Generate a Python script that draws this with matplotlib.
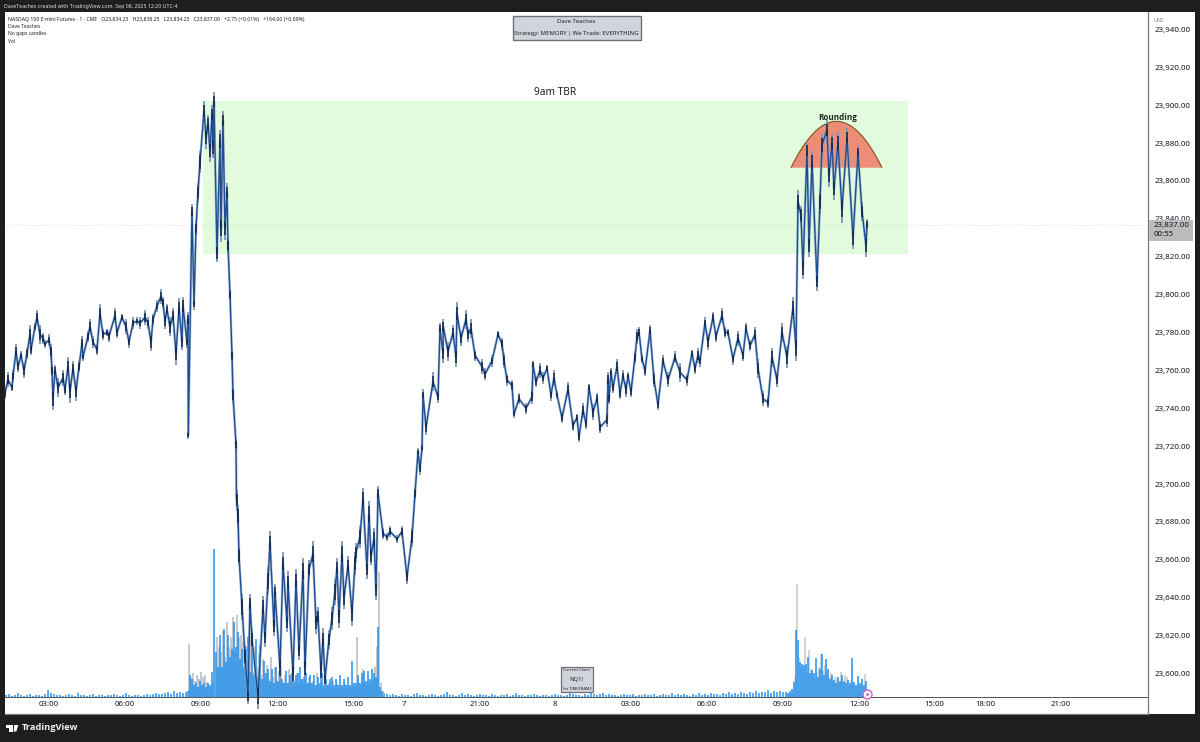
import numpy as np
import matplotlib
matplotlib.use("Agg")
import matplotlib.pyplot as plt
from matplotlib.patches import Rectangle, PathPatch, Polygon
from matplotlib.path import Path

FONT = "Noto Sans"
plt.rcParams["font.family"] = FONT

# ---- data -----------------------------------------------------------
bar_pos = [0,3,7,8,11,13,16,19,22,25,26,30,32,35,38,40,44,46,47,48,50,53,58,60,63,65,68,71,74,77,78,83,85,88,92,95,98,102,104,110,112,117,121,124,128,132,135,140,143,146,148,152,156,158,160,162,165,168,171,174,177,178,182,183,183.3,
187,189,191,193,195,199,201,203,205,207,208,209,212,215,216,218,220,222,223,225,227,228,231,231.5,233,234,237,240,243,245,247,253,258,260,263,265,269,270,275,278,282,283,288,291,294,298,300,304,308,311,313,316,318,320,324,327,330,332,334,337,339,343,347,350,351,355,358,362,364,366,369,371,373,378,382,385,392,397,402,407,410,413,415,417,418,421,428,433,435,438,438.3,443,448,451,452,456,461,463,466,470,477,480,487,493,497,499,502,507,509,514,521,527,528,531,535,538,542,546,549,552,557,563,568,572,574,578,581,584,588,592,595,602,603,604,606,608,612,615,618,621,623,626,630,632,634,637,640,645,649,653,658,663,670,675,682,687,690,693,695,700,703,708,711,717,720,723,728,733,738,741,745,750,753,758,763,767,772,777,782,788,791,793,796,798,802,804,807,812,815,817,822,824,827,829,833,837,842,848,853,857,861,862]
price = [23748,23755,23751,23757,23770,23762,23768,23760,23769,23779,23771,23783,23788,23779,23777,23774,23776,23770,23760,23745,23760,23751,23756,23750,23762,23749,23761,23749,23762,23774,23767,23778,23783,23775,23771,23790,23779,23780,23778,23789,23780,23788,23783,23775,23785,23786,23785,23788,23785,23775,23787,23794,23799,23796,23786,23792,23783,23789,23769,23793,23775,23794,23775,23787,23726,
23844,23795,23835,23854,23870,23897,23883,23890,23876,23895,23878,23902,23822,23881,23835,23892,23835,23854,23826,23800,23768,23747,23721,23692,23683,23662,23635,23609,23588,23637,23618,23588,23635,23619,23649,23669,23625,23643,23603,23658,23627,23648,23600,23649,23612,23654,23603,23655,23663,23627,23630,23602,23618,23597,23618,23629,23643,23656,23630,23663,23640,23657,23632,23658,23664,23672,23692,23655,23684,23662,23671,23644,23695,23674,23672,23675,23671,23675,23651,23672,23695,23717,23708,23719,23747,23730,23754,23746,23782,23769,23783,23770,23780,23767,23790,23777,23787,23779,23782,23768,23762,23758,23765,23779,23774,23765,23755,23752,23737,23745,23740,23746,23763,23754,23760,23756,23761,23747,23756,23747,23735,23750,23731,23735,23725,23739,23732,23751,23738,23745,23730,23734,23755,23745,23759,23751,23762,23748,23757,23750,23757,23749,23767,23778,23780,23766,23760,23781,23755,23742,23765,23755,23767,23759,23755,23769,23761,23768,23765,23785,23775,23788,23778,23789,23780,23780,23766,23777,23768,23782,23773,23779,23761,23745,23743,23767,23755,23780,23767,23793,23772,23849,23842,23814,23876,23826,23870,23807,23849,23879,23887,23863,23880,23856,23880,23845,23883,23830,23875,23844,23826,23837]
wick = [3,4,2,3,4,3,2,4,3,5, 3,2,4,5,3,2,3,4,3,6, 3,5,4,3,5,6,4,5,3,4, 2,3,4,3,3,5,3,2,3,4, 3,2,4,3,3,2,3,4,3,5, 3,3,4,3,4,3,5,4,6,5, 4,5,3,4,2,
        4,3,4,5,6,5,6,5,6,5, 6,5,5,6,7,5,6,5,4,3, 3,4,3,5,6,5,7,6,4,5, 6,7,6,5,7,6,5,4,7,6, 5,6,7,6,5,7,6,5,7,6, 5,7,6,4,5,6,7,5,6,7, 6,5,7,6,5,6,6,5,7,5, 6,5,4,3,2,3,2,3,4,5, 3,2,3,2,3,4,5,3,3,5, 4,5,4,5,6,4,5,4,5,3,
        4,3,3,2,3,4,3,3,2,3, 3,4,2,3,4,3,2,3,4,2, 3,4,3,2,3,4,3,2,4,3, 3,4,4,3,2,3,4,3,3,4, 2,3,3,4,3,2,3,3,4,3, 3,4,3,5,3,2,3,4,3,3, 4,3,3,4,3,2,3,4,3,3, 3,4,5,4,3,5,4,5,6,6, 7,6,5,6,5,6,6,5,6,6, 5,6,5,6,6,7,5,6,4,5, 6,3]

time_ticks = [44,120,196,272,348,399,475,550,626,702,778,854,929,980,1056]
time_labels = ["03:00","06:00","09:00","12:00","15:00","7","21:00","8","03:00","06:00","09:00","12:00","15:00","18:00","21:00"]
price_ticks = list(range(23600, 23941, 20))
last_price = 23837

vol_early = [2,3,1,2,4,2,1,2,3,1,2,2,1,3,7,4,3,2,2,1,2,3,2,1,4,2,2,1,2,3,1,2,2,1,2,2,3,2,1,2,4,2,1,2,2,1,2,3,2,3,4,3,3,4,5,3,6,4,5,4,5]
vol_day1_blue = [6,22,18,12,14,10,16,12,14,10,14,12,25,148,45,30,62,30,68,35,62,40,48,75,50,65,38,48,30,50,60,25,48,22,58,20,52,18,36,24,28,16,28,14,30,16,24,18,14,26,14,22,24,16,22,24,30,18,20,24,14,22,14,22,12,20,14,24,12,18,12,18,20,12,18,12,22,12,18,12,20,12,36,14,14,22,14,24,26,16,26,18,28,24,20,70,10,6]
vol_day1_gray = [53,20,24,16,22,18,25,20,22,15,12,10,14,0,60,50,45,66,40,75,50,60,80,45,82,60,62,55,48,35,30,58,25,50,30,44,22,38,20,32,18,40,20,30,16,26,30,14,22,14,28,16,20,14,24,14,18,14,22,14,20,14,16,12,24,12,16,10,20,12,14,10,16,10,14,10,12,10,14,10,12,10,12,10,60,14,12,28,14,12,16,14,18,30,50,125,14,6]
vol_mid = [4,3,2,3,2,1,3,2,2,1,3,4,2,2,1,2,3,2,1,2,3,5,2,2,1,2,4,2,3,2,1,2,3,2,2,1,3,2,1,2,2,3,1,2,4,2,2,1,2,2,3,2,1,2,2,1,2,3,2,2,1,2,6,3,2,2,1,3,2,4,3,2,3,4,2,3,2,2,1,2,3,2,2,3,1,2,2,3,2,2,3,1,2,3,2,2,4,2,3,2,3,2,1,3,2,4,2,3,2,4,3,3,2,4,3,5,3,4,3,5,4,3,5,4,6,4,5,5,7,4,6,5,6,5]
vol_day2_blue = [5,4,6,8,15,67,57,35,33,32,33,40,24,27,24,39,20,28,43,22,38,28,18,22,17,14,20,16,22,16,14,17,14,39,15,12,21,14,18,12,16,3]
vol_day2_gray = [3,3,4,5,20,113,40,30,28,60,25,47,28,22,18,25,30,43,26,32,24,20,24,16,20,18,14,25,14,22,20,12,16,14,12,10,12,12,10,23,8,2]

# ---- figure scaffolding ---------------------------------------------
W, H = 1200, 742
DARK = "#1e1e1e"
fig = plt.figure(figsize=(W / 100, H / 100), dpi=100, facecolor=DARK)

def frect(x0, y0, x1, y1, **kw):
    fig.add_artist(Rectangle((x0 / W, 1 - y1 / H), (x1 - x0) / W, (y1 - y0) / H,
                             transform=fig.transFigure, **kw))

def ftext(x, y, s, **kw):
    kw.setdefault("va", "center")
    fig.text(x / W, 1 - y / H, s, **kw)

frect(1148, 12, 1195, 714, facecolor="white", edgecolor="none", zorder=0)

left, right, top, bottom = 5, 1148, 12, 714
rect = [left / W, 1 - bottom / H, (right - left) / W, (bottom - top) / H]
vol_ax = fig.add_axes(rect, facecolor="white", zorder=1)
ax = vol_ax.twinx()
ax.set_zorder(2)
ax.patch.set_visible(False)

vol_ax.set_xlim(0, 1143)
ax.set_ylim(23578.6, 23949.2)
vol_ax.set_ylim(-17, 685)
vol_ax.set_yticks([])

# ---- volume ----------------------------------------------------------
BLUE, GRAY = "#1b8ff0", "#a9adb8"
x_early = np.arange(len(vol_early)) * 3 + 1
x_day1 = np.arange(len(vol_day1_blue)) * 2 + 183
x_mid = np.arange(len(vol_mid)) * 3 + 379
x_day2 = np.arange(len(vol_day2_blue)) * 2 + 781

def vbars(xs, vals, width, color, alpha=1.0):
    for b in vol_ax.bar(xs, vals, width=width, color=color, linewidth=0, alpha=alpha):
        b.set_snap(False)

vbars(x_early, vol_early, 1.6, "#1b8ff0", .9)
vbars(x_mid, vol_mid, 1.6, "#1b8ff0", .9)
vbars(x_day1 + 1, vol_day1_gray, 1.3, GRAY, 1)
vbars(x_day1, vol_day1_blue, 1.5, BLUE, 1)
vbars(x_day2 + 1, vol_day2_gray, 1.3, "#bdb9ba", 1)
vbars(x_day2, vol_day2_blue, 1.5, BLUE, 1)
vol_ax.axhline(0, color="#50535c", lw=0.7, zorder=3)

# ---- drawings --------------------------------------------------------
ax.add_patch(Rectangle((198, 23821.5), 705, 80.5, facecolor="#e1fbdc", edgecolor="none", zorder=1))
ax.axhline(last_price, color="#c8cad0", lw=0.5, ls=(0, (1, 2)), zorder=1.5)
arc = Path([(786, 23867), (831.5, 23916), (877, 23867), (786, 23867)],
           [Path.MOVETO, Path.CURVE3, Path.CURVE3, Path.CLOSEPOLY])
ax.add_patch(PathPatch(arc, facecolor="#ec8d78", edgecolor="none", zorder=2))
arc_line = Path([(786, 23867), (831.5, 23916), (877, 23867)],
                [Path.MOVETO, Path.CURVE3, Path.CURVE3])
ax.add_patch(PathPatch(arc_line, facecolor="none", edgecolor="#8b5a2e", lw=0.9, zorder=2.1))

# ---- price ------------------------------------------------------------
bar_arr = np.array(bar_pos)
price_arr = np.array(price, dtype=float)
wick_arr = np.array(wick, dtype=float)
ax.plot(bar_pos, price, color="#90a8c6", lw=1.9, alpha=.6, zorder=3)
ax.vlines(bar_arr, price_arr - wick_arr, price_arr + wick_arr, color="#7f96b4", lw=1.3, zorder=3.05)
ax.plot(bar_pos, price, color="#1f4f92", lw=1.0, zorder=3.1)
ax.vlines(bar_arr, price_arr - wick_arr * .6, price_arr + wick_arr * .6, color="#0e2345", lw=1.1, zorder=3.2)

ax.text(833, 23891.2, "Rounding", ha="center", va="bottom", fontsize=5.9, fontweight="bold",
        family="Open Sans", color="#1c2b20", zorder=5)
ax.text(550, 23903.7, "9am TBR", ha="center", va="bottom", fontsize=7.3, color="#222222", zorder=5)

# pink marker
ax.scatter([862], [23589], s=42, facecolor="white", edgecolor="#d65bd0", linewidth=1.0, zorder=6)
ax.scatter([862], [23589], s=6, marker="4", color="#b03ab0", linewidth=0.8, zorder=7)

# ---- axes ---------------------------------------------------------------
for s in ["left", "top"]:
    ax.spines[s].set_visible(False)
    vol_ax.spines[s].set_visible(False)
for s in ["right", "bottom"]:
    ax.spines[s].set_color("#787b86")
    ax.spines[s].set_linewidth(0.9)
    vol_ax.spines[s].set_visible(False)
vol_ax.set_xticks(time_ticks)
vol_ax.set_xticklabels(time_labels, fontsize=5.6, color="#131722")
vol_ax.tick_params(axis="x", length=0, pad=-9.7)
for lab, txt in zip(vol_ax.get_xticklabels(), time_labels):
    if len(txt) == 1:
        lab.set_fontweight("bold")
ax.set_yticks(price_ticks)
ax.set_yticklabels([f"{p:,.2f}" for p in price_ticks], fontsize=5.7, color="#131722")
ax.tick_params(axis="y", length=0, pad=4.5)

# last-price tag, on top of the scale
frect(1149, 220, 1193, 241, facecolor="#bcbcbc", edgecolor="none", zorder=10)
ftext(1154, 226, f"{last_price:,.2f}", fontsize=5.7, color="#131722", zorder=11)
ftext(1154, 235, "00:55", fontsize=5.7, color="#131722", zorder=11)
ftext(1154, 20, "USD", fontsize=3.8, color="#787b86", zorder=11)

# ---- header / legends ----------------------------------------------------
ftext(4, 6.5, "DaveTeaches created with TradingView.com, Sep 08, 2025 12:20 UTC-4",
      fontsize=3.75, color="#e0e0e0", zorder=11)
ftext(8, 19, "NASDAQ 100 E-mini Futures · 1 · CME   O23,834.25   H23,838.25   L23,834.25   C23,837.00   +2.75 (+0.01%)   +164.00 (+0.69%)",
      fontsize=3.7, color="#222222", zorder=11)
ftext(8, 26.5, "Dave Teaches", fontsize=3.6, color="#222222", zorder=11)
ftext(8, 34, "No gaps candles", fontsize=3.6, color="#222222", zorder=11)
ftext(8, 41.5, "Vol", fontsize=3.6, color="#222222", zorder=11)

frect(512.5, 16.5, 640.5, 39.5, facecolor="#d1d4dc", edgecolor="#6f7179", lw=1.0, zorder=10)
ftext(576.5, 21.5, "Dave Teaches", ha="center", fontsize=4.3, color="#222222", zorder=11)
ftext(576.5, 34, "Strategy: MEMORY | We Trade: EVERYTHING", ha="center", fontsize=4.3,
      color="#222222", zorder=11)

frect(560.5, 666.5, 593, 692, facecolor="#d1d4dc", edgecolor="#6f7179", lw=0.9, zorder=10)
ftext(576.7, 670, "Current Chart:", ha="center", fontsize=2.9, color="#222222", zorder=11)
ftext(576.7, 679, "NQ1!", ha="center", fontsize=4.2, color="#222222", zorder=11)
ftext(576.7, 688.5, "1m TIMEFRAME", ha="center", fontsize=2.9, color="#222222", zorder=11)

# ---- TradingView logo -------------------------------------------------
frect(6, 725, 13, 727.6, facecolor="white", edgecolor="none", zorder=11)
frect(9, 725, 13, 731.5, facecolor="white", edgecolor="none", zorder=11)
fig.add_artist(Polygon([(14.2 / W, 1 - 725 / H), (18.4 / W, 1 - 725 / H), (16.3 / W, 1 - 731.5 / H), (13.6 / W, 1 - 731.5 / H)],
                       closed=True, transform=fig.transFigure, facecolor="white", edgecolor="none", zorder=11))
ftext(22, 728, "TradingView", fontsize=6.7, fontweight="bold", family="Open Sans", color="#f0f0f0", zorder=11)

fig.savefig("out.png", dpi=100, facecolor=DARK)
